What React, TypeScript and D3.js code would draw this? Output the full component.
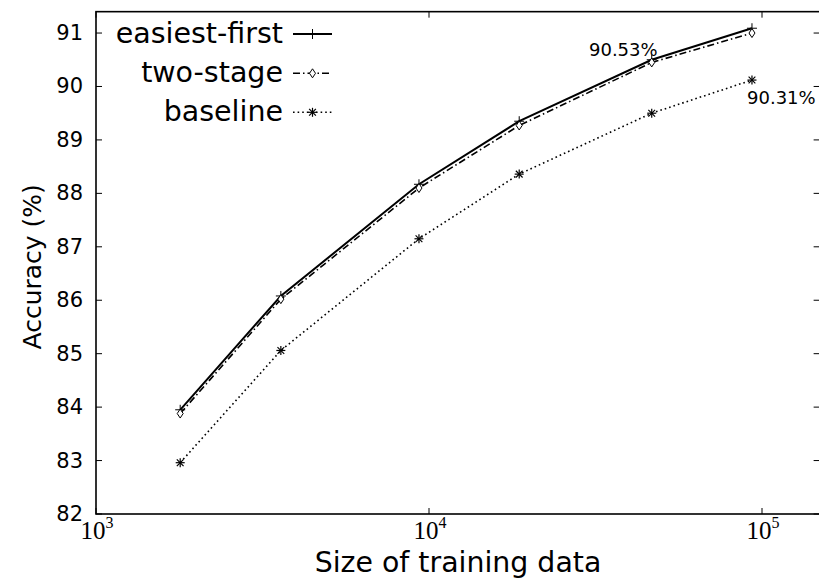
import React from "react";
import * as d3 from "d3";

const sizes = [1790, 3590, 9330, 18660, 46650, 93300];
const easiestFirst = [83.95, 86.08, 88.17, 89.35, 90.5, 91.09];
const twoStage = [83.88, 86.02, 88.1, 89.27, 90.45, 91.0];
const baseline = [82.96, 85.06, 87.15, 88.36, 89.5, 90.12];
const yTicks = [82, 83, 84, 85, 86, 87, 88, 89, 90, 91];
const xTickExps = [3, 4, 5];
const seriesNames = ["easiest-first", "two-stage", "baseline"];
const annotations = [
  { text: "90.53%", x: 30230, y: 90.57 },
  { text: "90.31%", x: 90150, y: 89.67 },
];

const W = 819;
const H = 579;
const left = 96;
const decade = 333;
const x = d3.scaleLog().domain([1000, 150000]).range([left, left + decade * Math.log10(150)]);
const y = d3.scaleLinear().domain([82, 91.4]).range([514, 514 - 9.4 * 53.44]);

const styles = [
  { dash: "none", width: 2, marker: "plus" },
  { dash: "7,3,1.5,3", width: 1.6, marker: "diamond" },
  { dash: "1.6,3", width: 1.6, marker: "star" },
];

function Marker({ kind, cx, cy }: { kind: string; cx: number; cy: number }) {
  if (kind === "plus") {
    return (
      <g stroke="#000" strokeWidth={1}>
        <line x1={cx - 5} x2={cx + 5} y1={cy} y2={cy} />
        <line x1={cx} x2={cx} y1={cy - 5} y2={cy + 5} />
      </g>
    );
  }
  if (kind === "diamond") {
    return (
      <path
        d={`M${cx},${cy - 4.5}L${cx + 3},${cy}L${cx},${cy + 4.5}L${cx - 3},${cy}Z`}
        fill="#fff"
        stroke="#000"
        strokeWidth={1}
      />
    );
  }
  const r = 4.5;
  return (
    <g stroke="#000" strokeWidth={1.2}>
      <line x1={cx - r} x2={cx + r} y1={cy} y2={cy} />
      <line x1={cx} x2={cx} y1={cy - r} y2={cy + r} />
      <line x1={cx - r * 0.75} x2={cx + r * 0.75} y1={cy - r * 0.75} y2={cy + r * 0.75} />
      <line x1={cx - r * 0.75} x2={cx + r * 0.75} y1={cy + r * 0.75} y2={cy - r * 0.75} />
    </g>
  );
}

export default function App() {
  const data = [easiestFirst, twoStage, baseline];
  const line = d3
    .line<number>()
    .x((_, i) => x(sizes[i]))
    .y((d) => y(d));
  const [x0, x1] = x.range();
  const [y0, y1] = y.range();
  const font = "'DejaVu Sans', sans-serif";
  const legendY = [34, 73.3, 112.3];
  const legendBase = [42.5, 81.5, 120.5];
  return (
    <svg
      width={W}
      height={H}
      style={{ position: "absolute", left: 0, top: 0, background: "#fff" }}
      fontFamily={font}
    >
      <rect x={0} y={0} width={W} height={H} fill="#fff" />
      {/* frame */}
      <rect x={x0} y={y1} width={x1 - x0} height={y0 - y1} fill="none" stroke="#000" strokeWidth={1.6} />
      {/* y ticks */}
      {yTicks.map((t) => (
        <g key={t}>
          <line x1={x0} x2={x0 + 6} y1={y(t)} y2={y(t)} stroke="#000" strokeWidth={1} />
          <line x1={x1 - 7} x2={x1} y1={y(t)} y2={y(t)} stroke="#000" strokeWidth={1} />
          <text x={83} y={y(t)} textAnchor="end" dominantBaseline="central" fontSize={21}>
            {t}
          </text>
        </g>
      ))}
      {/* x ticks */}
      {xTickExps.map((e) => {
        const px = x(Math.pow(10, e));
        return (
          <g key={e}>
            <line x1={px} x2={px} y1={y0} y2={y0 - 6} stroke="#000" strokeWidth={1} />
            <line x1={px} x2={px} y1={y1} y2={y1 + 6} stroke="#000" strokeWidth={1} />
            <text x={px + 1} y={539} textAnchor="middle" fontFamily="'Liberation Serif', serif" fontSize={25}>
              10
              <tspan fontSize={16} dy={-11}>
                {e}
              </tspan>
            </text>
          </g>
        );
      })}
      {/* series */}
      {data.map((vals, si) => (
        <g key={si}>
          <path
            d={line(vals) || ""}
            fill="none"
            stroke="#000"
            strokeWidth={styles[si].width}
            strokeDasharray={styles[si].dash}
          />
          {vals.map((v, i) => (
            <Marker key={i} kind={styles[si].marker} cx={x(sizes[i])} cy={y(v)} />
          ))}
        </g>
      ))}
      {/* annotations */}
      {annotations.map((a) => (
        <text key={a.text} x={x(a.x)} y={y(a.y)} fontSize={18}>
          {a.text}
        </text>
      ))}
      {/* legend */}
      {seriesNames.map((n, i) => (
        <g key={n}>
          <text x={283} y={legendBase[i]} textAnchor="end" fontSize={28.5}>
            {n}
          </text>
          <line
            x1={293}
            x2={332}
            y1={legendY[i]}
            y2={legendY[i]}
            stroke="#000"
            strokeWidth={styles[i].width}
            strokeDasharray={styles[i].dash}
          />
          <Marker kind={styles[i].marker} cx={312.5} cy={legendY[i]} />
        </g>
      ))}
      {/* axis labels */}
      <text x={(x0 + 820) / 2} y={572} textAnchor="middle" fontSize={28.4}>
        Size of training data
      </text>
      <text
        transform={`translate(41,${(y0 + y1) / 2 + 4}) rotate(-90)`}
        textAnchor="middle"
        fontSize={25}
      >
        Accuracy (%)
      </text>
    </svg>
  );
}
